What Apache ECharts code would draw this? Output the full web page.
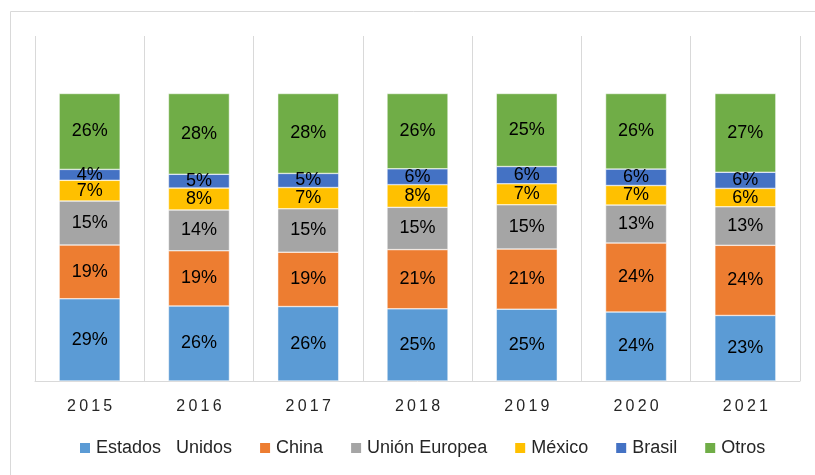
<!DOCTYPE html>
<html>
<head>
<meta charset="utf-8">
<script src="https://cdn.jsdelivr.net/npm/echarts@6/dist/echarts.min.js"></script>
<style>
    html, body { margin: 0; padding: 0; background: #fff; }
    #main { width: 815px; height: 475px; }
</style>
</head>
<body>
<div id="main"></div>
<script>
// años
const years = ['2015', '2016', '2017', '2018', '2019', '2020', '2021'];

// participación (%) por año
const estadosUnidos = [28.6, 26.1, 25.9, 25.1, 25.0, 24.0, 22.8];
const china = [18.7, 19.2, 18.9, 20.6, 20.9, 24.0, 24.4];
const unionEuropea = [15.3, 14.2, 15.1, 14.7, 15.4, 13.2, 13.4];
const mexico = [7.2, 7.6, 7.4, 7.9, 7.3, 6.8, 6.4];
const brasil = [3.8, 4.8, 4.9, 5.5, 6.0, 5.7, 5.6];
const otros = [26.4, 28.1, 27.8, 26.2, 25.4, 26.3, 27.4];

const seriesDefs = [
    { name: 'Estados   Unidos', data: estadosUnidos, color: '#5B9BD5' },
    { name: 'China', data: china, color: '#ED7D31' },
    { name: 'Unión Europea', data: unionEuropea, color: '#A5A5A5' },
    { name: 'México', data: mexico, color: '#FFC000' },
    { name: 'Brasil', data: brasil, color: '#4472C4' },
    { name: 'Otros', data: otros, color: '#70AD47' }
];

let myChart = echarts.init(document.getElementById('main'));

myChart.setOption({
    animation: false,
    textStyle: {
        fontFamily: '"Liberation Sans", Arial, sans-serif'
    },
    graphic: [
        {
            type: 'rect',
            shape: { x: 10.5, y: 11.5, width: 900, height: 600 },
            style: { fill: 'none', stroke: '#d9d9d9', lineWidth: 1 },
            silent: true
        }
    ],
    legend: {
        left: 78,
        top: 439,
        padding: 0,
        itemWidth: 12,
        itemHeight: 12,
        itemGap: 26,
        icon: 'rect',
        textStyle: {
            fontSize: 18,
            color: '#262626'
        },
        data: seriesDefs.map(s => s.name)
    },
    grid: {
        left: 35,
        right: 15,
        top: 36,
        bottom: 94
    },
    xAxis: {
        type: 'category',
        data: years,
        axisLine: {
            lineStyle: { color: '#d9d9d9' }
        },
        axisTick: { show: false },
        splitLine: {
            show: true,
            lineStyle: { color: '#d9d9d9', width: 1 }
        },
        axisLabel: {
            margin: 18,
            fontSize: 16,
            color: '#262626',
            // espaciado entre letras
            formatter: function (v) {
                return v.split('').join('\u2009');
            }
        }
    },
    yAxis: {
        type: 'value',
        min: 0,
        max: 120,
        show: false,
        splitLine: { show: false }
    },
    series: seriesDefs.map(s => ({
        name: s.name,
        type: 'bar',
        stack: 'total',
        barWidth: 61,
        itemStyle: {
            color: s.color,
            borderColor: '#ffffff',
            borderWidth: 0.5
        },
        label: {
            show: true,
            position: 'inside',
            fontSize: 18,
            color: '#000000',
            formatter: function (p) {
                return Math.round(p.value) + '%';
            }
        },
        emphasis: { disabled: true },
        data: s.data
    }))
});

window.addEventListener('resize', function () {
    myChart.resize();
});
</script>
</body>
</html>
